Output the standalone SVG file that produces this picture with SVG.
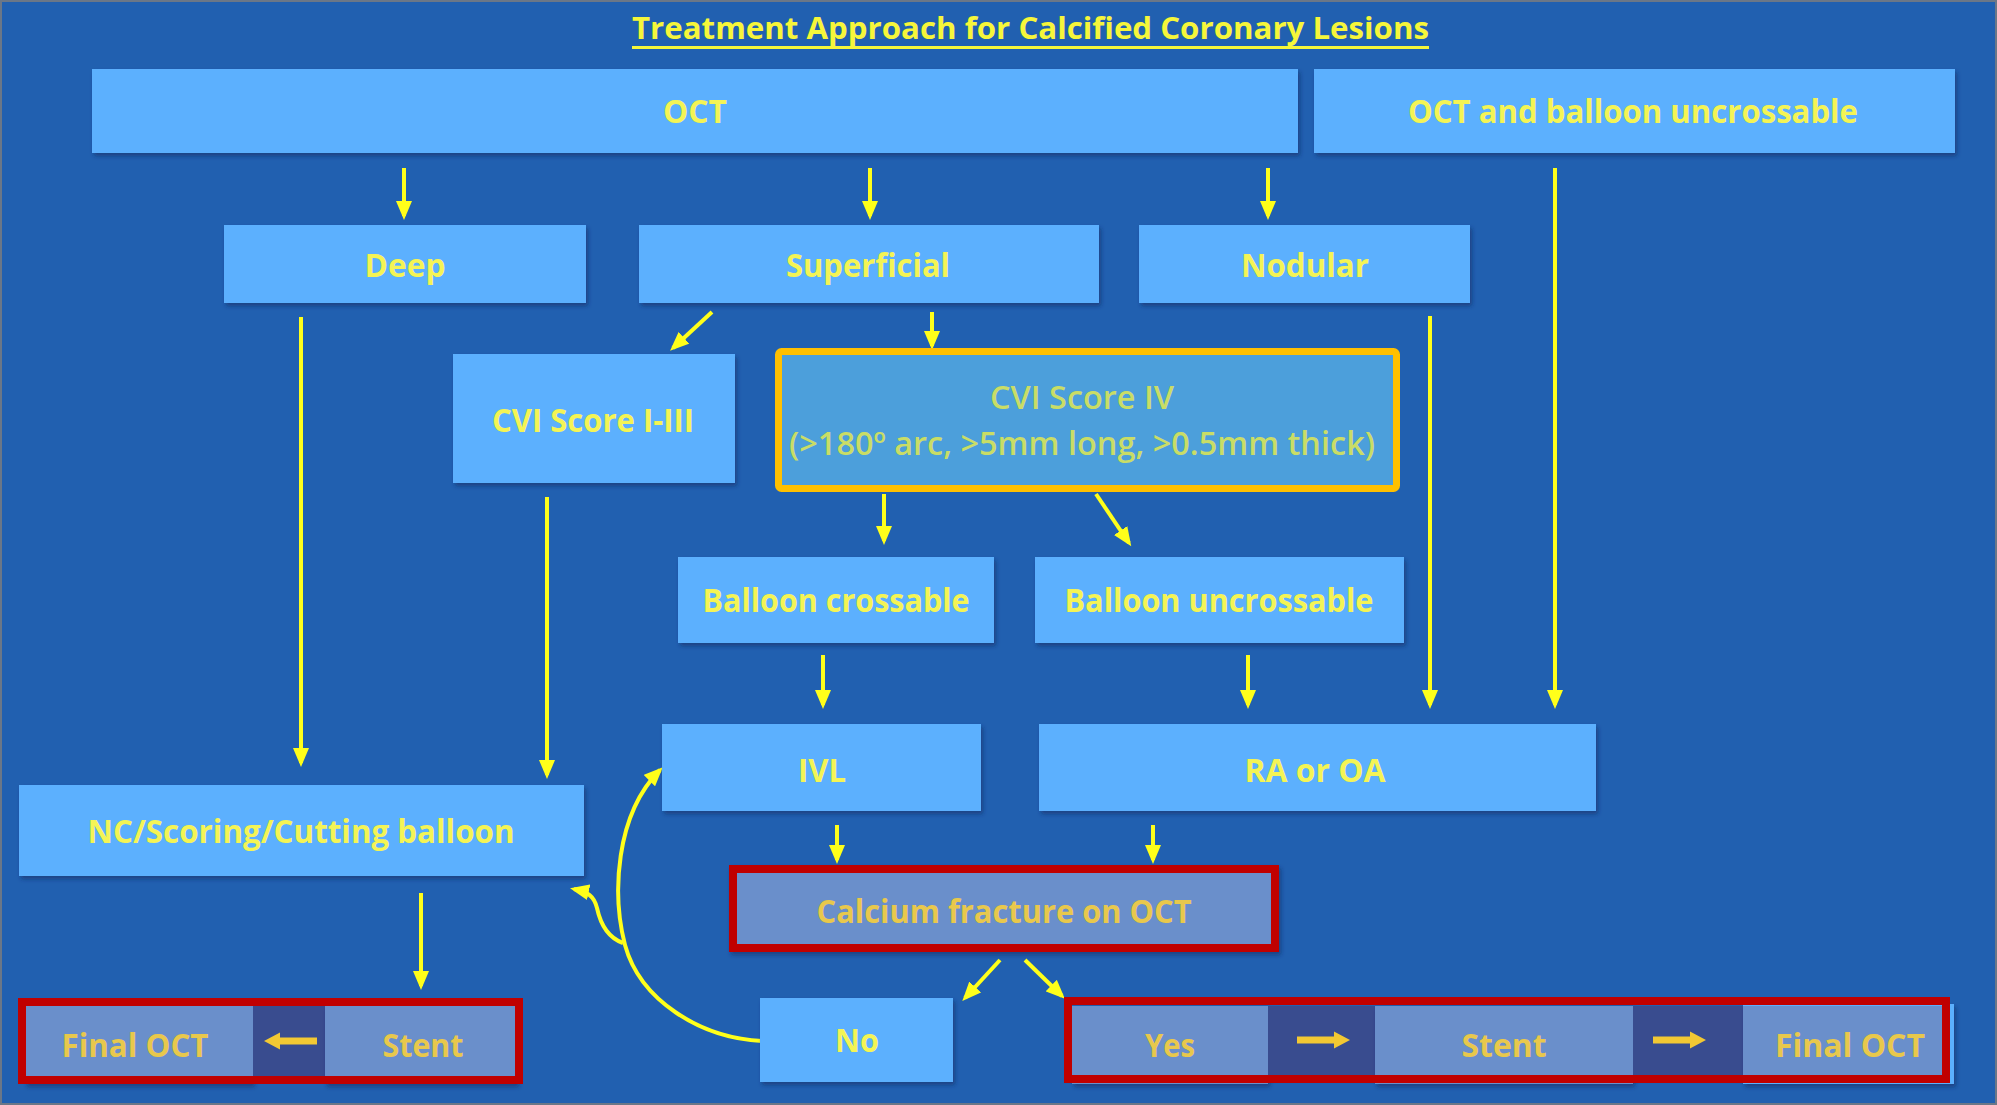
<svg xmlns="http://www.w3.org/2000/svg" width="1997" height="1105" viewBox="0 0 1997 1105">
  <style>
    .box { fill: #5cb0fe; filter: url(#shadow); }
    .cvi4 { fill: #4c9fdb; stroke: #ffc000; stroke-width: 7; }
    .redframe { fill: none; stroke: #c00000; stroke-width: 8; }
    .cell { fill: #6a8fcb; }
    .darkcell { fill: #394c8f; }
    .calc { fill: #6a8fcb; stroke: #c00000; stroke-width: 8; filter: url(#shadow); }
    text { font-family: "Open Sans", "Liberation Sans", sans-serif; font-weight: 700; text-anchor: middle; }
    .lbl { font-size: 32px; fill: #f4f455; }
    .lbl4 { font-size: 32px; fill: #c9dd66; font-weight: 600; }
    .lblr { font-size: 33px; fill: #e8c84c; }
    .title { font-weight: 700; font-size: 30px; fill: #f6f63a; }
    .conn { fill: none; stroke: #ffff1a; stroke-width: 4; marker-end: url(#tip); }
    .blk { fill: #f2c833; }
  </style>
  <defs>
    <filter id="shadow" x="-5%" y="-10%" width="110%" height="130%">
      <feDropShadow dx="2" dy="3" stdDeviation="2" flood-color="#0b2a5e" flood-opacity="0.55"/>
    </filter>
    <marker id="tip" markerUnits="userSpaceOnUse" markerWidth="20" markerHeight="16" refX="15" refY="8" orient="auto">
      <path d="M0,0 L19,8 L0,16 Z" fill="#ffff1a"/>
    </marker>
    <path id="blockArrow" d="M-26,-3.5 H11 V-8.5 L27,0 L11,8.5 V3.5 H-26 Z"/>
  </defs>

  <!-- background -->
  <rect x="0" y="0" width="1997" height="1105" fill="#2160b0"/>
  <rect x="1" y="1" width="1995" height="1103" fill="none" stroke="#6b7787" stroke-width="2"/>

  <!-- heading -->
  <g id="title">
    <text class="title" x="1030.5" y="39" textLength="797" lengthAdjust="spacingAndGlyphs">Treatment Approach for Calcified Coronary Lesions</text>
    <rect x="632" y="46" width="797" height="3" fill="#f6f63a"/>
  </g>

  <!-- connectors -->
  <g id="connectors">
    <line class="conn" x1="404" y1="168" x2="404" y2="216"/>
    <line class="conn" x1="870" y1="168" x2="870" y2="216"/>
    <line class="conn" x1="1268" y1="168" x2="1268" y2="216"/>
    <line class="conn" x1="1555" y1="168" x2="1555" y2="705"/>
    <line class="conn" x1="301" y1="317" x2="301" y2="763"/>
    <line class="conn" x1="712" y1="312" x2="673" y2="348"/>
    <line class="conn" x1="932" y1="312" x2="932" y2="346"/>
    <line class="conn" x1="1430" y1="316" x2="1430" y2="705"/>
    <line class="conn" x1="547" y1="497" x2="547" y2="775"/>
    <line class="conn" x1="884" y1="494" x2="884" y2="541"/>
    <line class="conn" x1="1096" y1="494" x2="1129" y2="543"/>
    <line class="conn" x1="823" y1="655" x2="823" y2="705"/>
    <line class="conn" x1="1248" y1="655" x2="1248" y2="705"/>
    <line class="conn" x1="837" y1="825" x2="837" y2="860"/>
    <line class="conn" x1="1153" y1="825" x2="1153" y2="860"/>
    <line class="conn" x1="1000" y1="960" x2="965" y2="998"/>
    <line class="conn" x1="1025" y1="960" x2="1062" y2="996"/>
    <line class="conn" x1="421" y1="893" x2="421" y2="986"/>
    <!-- loop back from "No" to IVL, with a branch to the balloon box -->
    <path class="conn" d="M762,1041 C700,1038 640,1000 625,945 C612,895 615,815 660,770"/>
    <path class="conn" d="M623,943 C606,937 600,922 597,908 C594,896 588,892 574,889"/>
  </g>

  <!-- top row -->
  <g id="node-oct">
    <rect class="box" x="92" y="69" width="1206" height="84"/>
    <text class="lbl" x="695" y="123" textLength="64" lengthAdjust="spacingAndGlyphs">OCT</text>
  </g>
  <g id="node-oct-uncrossable">
    <rect class="box" x="1314" y="69" width="641" height="84"/>
    <text class="lbl" x="1633" y="123" textLength="450" lengthAdjust="spacingAndGlyphs">OCT and balloon uncrossable</text>
  </g>

  <!-- calcium morphology -->
  <g id="node-deep">
    <rect class="box" x="224" y="225" width="362" height="78"/>
    <text class="lbl" x="405" y="277" textLength="81" lengthAdjust="spacingAndGlyphs">Deep</text>
  </g>
  <g id="node-superficial">
    <rect class="box" x="639" y="225" width="460" height="78"/>
    <text class="lbl" x="868" y="277" textLength="164" lengthAdjust="spacingAndGlyphs">Superficial</text>
  </g>
  <g id="node-nodular">
    <rect class="box" x="1139" y="225" width="331" height="78"/>
    <text class="lbl" x="1305" y="277" textLength="128" lengthAdjust="spacingAndGlyphs">Nodular</text>
  </g>

  <!-- CVI scores -->
  <g id="node-cvi-1-3">
    <rect class="box" x="453" y="354" width="282" height="129"/>
    <text class="lbl" x="593" y="432" textLength="202" lengthAdjust="spacingAndGlyphs">CVI Score I-III</text>
  </g>
  <g id="node-cvi-4">
    <rect class="cvi4" x="778.5" y="351.5" width="618" height="137" rx="3"/>
    <text class="lbl4" x="1082" y="409" textLength="184" lengthAdjust="spacingAndGlyphs">CVI Score IV</text>
    <text class="lbl4" x="1082" y="455" textLength="586" lengthAdjust="spacingAndGlyphs">(&gt;180º arc, &gt;5mm long, &gt;0.5mm thick)</text>
  </g>

  <!-- crossability -->
  <g id="node-balloon-crossable">
    <rect class="box" x="678" y="557" width="316" height="86"/>
    <text class="lbl" x="836" y="612" textLength="267" lengthAdjust="spacingAndGlyphs">Balloon crossable</text>
  </g>
  <g id="node-balloon-uncrossable">
    <rect class="box" x="1035" y="557" width="369" height="86"/>
    <text class="lbl" x="1219" y="612" textLength="309" lengthAdjust="spacingAndGlyphs">Balloon uncrossable</text>
  </g>

  <!-- devices -->
  <g id="node-ivl">
    <rect class="box" x="662" y="724" width="319" height="87"/>
    <text class="lbl" x="822" y="782" textLength="48" lengthAdjust="spacingAndGlyphs">IVL</text>
  </g>
  <g id="node-ra-oa">
    <rect class="box" x="1039" y="724" width="557" height="87"/>
    <text class="lbl" x="1315" y="782" textLength="141" lengthAdjust="spacingAndGlyphs">RA or OA</text>
  </g>
  <g id="node-nc-balloon">
    <rect class="box" x="19" y="785" width="565" height="91"/>
    <text class="lbl" x="301" y="843" textLength="427" lengthAdjust="spacingAndGlyphs">NC/Scoring/Cutting balloon</text>
  </g>

  <!-- outcome check -->
  <g id="node-calcium-fracture">
    <rect class="calc" x="733" y="869" width="542" height="79"/>
    <text class="lblr" x="1004" y="923" textLength="375" lengthAdjust="spacingAndGlyphs">Calcium fracture on OCT</text>
  </g>
  <g id="node-no">
    <rect class="box" x="760" y="998" width="193" height="84"/>
    <text class="lbl" x="857" y="1052" textLength="44" lengthAdjust="spacingAndGlyphs">No</text>
  </g>

  <!-- left finishing strip -->
  <g id="node-left-finish">
    <rect class="cell" x="25" y="1006" width="228" height="78" filter="url(#shadow)"/>
    <rect class="darkcell" x="253" y="1006" width="72" height="71"/>
    <rect class="cell" x="325" y="1006" width="192" height="78" filter="url(#shadow)"/>
    <use href="#blockArrow" class="blk" transform="translate(291,1041) scale(-1,1)"/>
    <rect class="redframe" x="22" y="1002" width="497" height="78"/>
    <text class="lblr" x="135" y="1057" textLength="147" lengthAdjust="spacingAndGlyphs">Final OCT</text>
    <text class="lblr" x="423" y="1057" textLength="81" lengthAdjust="spacingAndGlyphs">Stent</text>
  </g>

  <!-- right finishing strip -->
  <g id="node-right-finish">
    <rect class="cell" x="1072" y="1006" width="196" height="78" filter="url(#shadow)"/>
    <rect class="darkcell" x="1268" y="1006" width="107" height="71"/>
    <rect class="cell" x="1375" y="1006" width="258" height="78" filter="url(#shadow)"/>
    <rect class="darkcell" x="1633" y="1006" width="110" height="71"/>
    <rect x="1743" y="1004" width="211" height="80" fill="#5cb0fe" filter="url(#shadow)"/>
    <rect class="cell" x="1743" y="1006" width="203" height="71"/>
    <use href="#blockArrow" class="blk" transform="translate(1323,1040)"/>
    <use href="#blockArrow" class="blk" transform="translate(1679,1040)"/>
    <rect class="redframe" x="1068" y="1001" width="878" height="78"/>
    <text class="lblr" x="1170" y="1057" textLength="50" lengthAdjust="spacingAndGlyphs">Yes</text>
    <text class="lblr" x="1504" y="1057" textLength="85" lengthAdjust="spacingAndGlyphs">Stent</text>
    <text class="lblr" x="1850" y="1057" textLength="150" lengthAdjust="spacingAndGlyphs">Final OCT</text>
  </g>
</svg>
